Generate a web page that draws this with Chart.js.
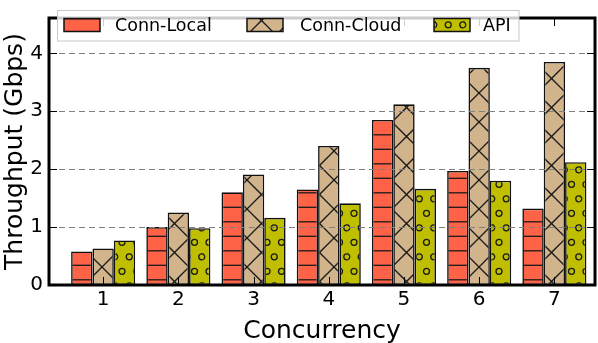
<!DOCTYPE html>
<html>
<head>
<meta charset="utf-8">
<script src="https://cdn.jsdelivr.net/npm/chart.js@4.4.0/dist/chart.umd.min.js"></script>
<style>
  html, body { margin: 0; padding: 0; background: #fff; }
  #wrap { width: 598px; height: 343px; }
</style>
</head>
<body>
<div id="wrap"><canvas id="chart"></canvas></div>
<script>
(function () {
  'use strict';

  var CONCURRENCY = [1, 2, 3, 4, 5, 6, 7];
  var CONN_LOCAL  = [0.58, 1.00, 1.60, 1.65, 2.85, 1.97, 1.32];
  var CONN_CLOUD  = [0.63, 1.25, 1.91, 2.40, 3.12, 3.75, 3.85];
  var API_VALS    = [0.77, 0.98, 1.16, 1.41, 1.66, 1.80, 2.12];
  var Y_TICKS     = [0, 1, 2, 3, 4];

  var FONT = "'DejaVu Sans', sans-serif";
  var canvas = document.getElementById('chart');
  var ctx = canvas.getContext('2d');

  // hatch tiles, 29px period, anchored to the canvas origin
  function makePattern(kind, bg) {
    var T = 29;
    var c = document.createElement('canvas');
    c.width = T; c.height = T;
    var g = c.getContext('2d');
    g.fillStyle = bg;
    g.fillRect(0, 0, T, T);
    g.strokeStyle = '#1a1a1a';
    g.lineWidth = 1.3;
    var k, dx, dy;
    if (kind === 'h') {
      [4.3, 18.8].forEach(function (y) {
        g.beginPath(); g.moveTo(0, y); g.lineTo(T, y); g.stroke();
      });
    } else if (kind === 'x') {
      for (k = -2; k <= 2; k++) {
        var a = 9 + T * k, b = 21 + T * k;
        g.beginPath(); g.moveTo(-5, -5 - a); g.lineTo(T + 5, T + 5 - a); g.stroke();
        g.beginPath(); g.moveTo(-5, b + 5); g.lineTo(T + 5, b - T - 5); g.stroke();
      }
    } else if (kind === 'o') {
      var pts = [[6, 10.3], [20.5, 10.3], [13.25, 24.8], [27.75, 24.8]];
      pts.forEach(function (p) {
        for (dx = -1; dx <= 1; dx++) {
          for (dy = -1; dy <= 1; dy++) {
            g.beginPath();
            g.arc(p[0] + dx * T, p[1] + dy * T, 3, 0, Math.PI * 2);
            g.stroke();
          }
        }
      });
    }
    return ctx.createPattern(c, 'repeat');
  }

  function pairs(vals) {
    return CONCURRENCY.map(function (x, i) { return { x: x, y: vals[i] }; });
  }

  var datasets = [
    { label: 'Conn-Local', data: pairs(CONN_LOCAL), backgroundColor: makePattern('h', '#ff6347') },
    { label: 'Conn-Cloud', data: pairs(CONN_CLOUD), backgroundColor: makePattern('x', '#d2b48c') },
    { label: 'API',        data: pairs(API_VALS),   backgroundColor: makePattern('o', '#bfbf00') }
  ];
  datasets.forEach(function (d) {
    d.borderColor = '#111';
    d.borderWidth = 1.6;
    d.borderSkipped = false;
    d.categoryPercentage = 0.852;
    d.barPercentage = 1.0;
  });

  // dashed y grid, drawn over the bars like the original
  var dashedGrid = {
    id: 'dashedGrid',
    afterDatasetsDraw: function (chart) {
      var c = chart.ctx, a = chart.chartArea, ys = chart.scales.y;
      c.save();
      c.strokeStyle = '#808080';
      c.lineWidth = 1;
      c.setLineDash([6, 4]);
      Y_TICKS.forEach(function (v) {
        if (v === 0) return;
        var py = Math.round(ys.getPixelForValue(v)) + 0.5;
        c.beginPath(); c.moveTo(a.left, py); c.lineTo(a.right, py); c.stroke();
      });
      c.restore();
    }
  };

  // frame, inside ticks and the legend box
  var decorations = {
    id: 'decorations',
    afterDraw: function (chart) {
      var c = chart.ctx, a = chart.chartArea;
      var xs = chart.scales.x, ys = chart.scales.y;
      c.save();
      c.strokeStyle = '#000';
      c.lineWidth = 1;
      CONCURRENCY.forEach(function (v) {
        var px = Math.round(xs.getPixelForValue(v)) + 0.5;
        c.beginPath(); c.moveTo(px, a.top); c.lineTo(px, a.top + 8); c.stroke();
        c.beginPath(); c.moveTo(px, a.bottom); c.lineTo(px, a.bottom - 8); c.stroke();
      });
      Y_TICKS.forEach(function (v) {
        var py = Math.round(ys.getPixelForValue(v)) + 0.5;
        c.beginPath(); c.moveTo(a.left, py); c.lineTo(a.left + 8, py); c.stroke();
        c.beginPath(); c.moveTo(a.right, py); c.lineTo(a.right - 8, py); c.stroke();
      });
      c.lineWidth = 3;
      c.strokeRect(a.left, a.top, a.right - a.left, a.bottom - a.top);

      // legend
      c.fillStyle = 'rgba(255,255,255,0.8)';
      c.fillRect(57.5, 10.5, 461.5, 30.5);
      c.strokeStyle = '#c8c8c8';
      c.lineWidth = 1;
      c.strokeRect(57.5, 10.5, 461.5, 30.5);
      var swX = [64, 247, 434], txX = [115, 300, 483];
      c.font = '17.5px ' + FONT;
      c.textBaseline = 'middle';
      c.textAlign = 'left';
      chart.data.datasets.forEach(function (d, i) {
        c.fillStyle = d.backgroundColor;
        c.fillRect(swX[i], 18.5, 36, 13);
        c.strokeStyle = '#111';
        c.lineWidth = 1.5;
        c.strokeRect(swX[i], 18.5, 36, 13);
        c.fillStyle = '#000';
        c.fillText(d.label, txX[i], 26);
      });
      c.restore();
    }
  };

  new Chart(canvas, {
    type: 'bar',
    data: { datasets: datasets },
    options: {
      responsive: true,
      maintainAspectRatio: false,
      animation: false,
      devicePixelRatio: 1,
      layout: { padding: { top: 2, right: 3, left: 0, bottom: 0 } },
      plugins: { legend: { display: false }, tooltip: { enabled: false } },
      scales: {
        x: {
          type: 'linear',
          min: 0.28,
          max: 7.54,
          offset: false,
          afterBuildTicks: function (s) { s.ticks = CONCURRENCY.map(function (v) { return { value: v }; }); },
          afterFit: function (s) { s.height = 58; },
          grid: { display: false, drawTicks: false },
          border: { display: false },
          ticks: { color: '#000', font: { family: FONT, size: 20 }, padding: 3, maxRotation: 0 },
          title: { display: true, text: 'Concurrency', color: '#000', font: { family: FONT, size: 25, lineHeight: 0.9 }, padding: { top: 0, bottom: 0 } }
        },
        y: {
          min: 0,
          max: 4.61,
          afterBuildTicks: function (s) { s.ticks = Y_TICKS.map(function (v) { return { value: v }; }); },
          afterFit: function (s) { s.width = 49; },
          grid: { display: false, drawTicks: false },
          border: { display: false },
          ticks: { color: '#000', font: { family: FONT, size: 20 }, padding: 6 },
          title: { display: true, text: 'Throughput (Gbps)', color: '#000', font: { family: FONT, size: 25 }, padding: { top: 0, bottom: 0 } }
        }
      }
    },
    plugins: [dashedGrid, decorations]
  });
})();
</script>
</body>
</html>
